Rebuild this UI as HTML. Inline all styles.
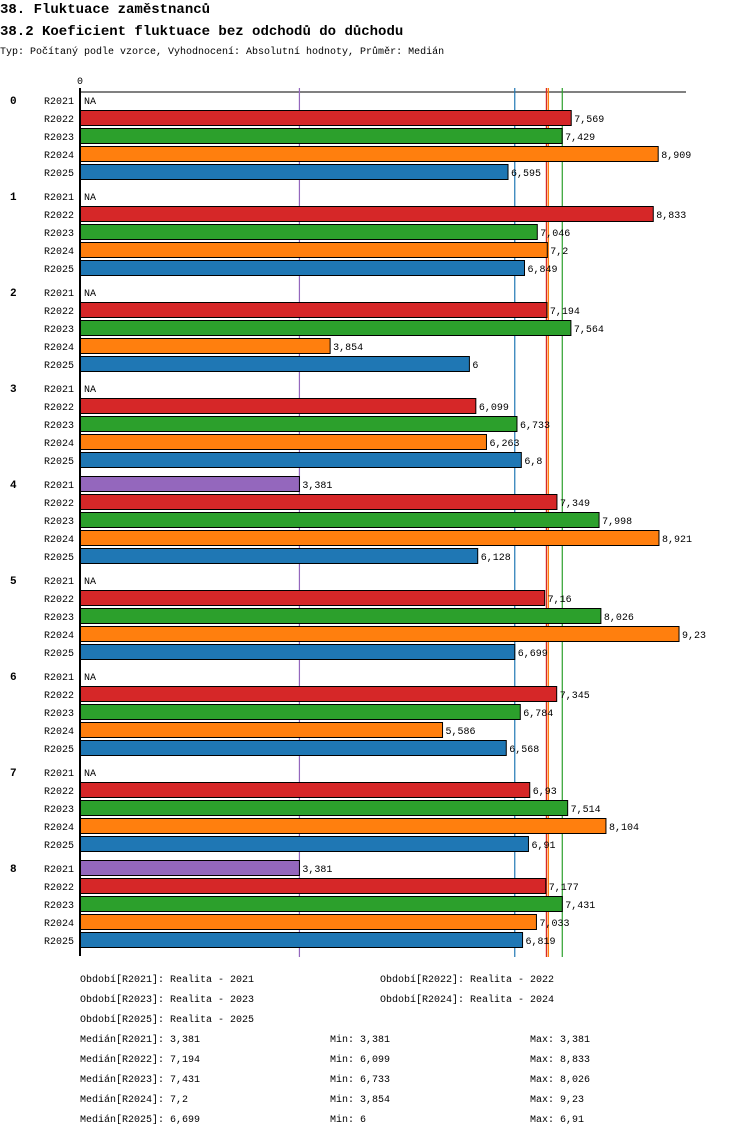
<!DOCTYPE html>
<html><head><meta charset="utf-8"><style>
body{margin:0;background:#fff;width:750px;height:1136px;overflow:hidden}
svg{display:block;font-family:"Liberation Mono",monospace}
</style></head><body>
<svg id="c" width="750" height="1136"></svg>
<script>
const groups=["0","1","2","3","4","5","6","7","8"];
const periods=["R2021","R2022","R2023","R2024","R2025"];
const colors=["#9467bd","#d62728","#2ca02c","#ff7f0e","#1f77b4"];
const r2021=[null,null,null,null,3.381,null,null,null,3.381];
const r2022=[7.569,8.833,7.194,6.099,7.349,7.16,7.345,6.93,7.177];
const r2023=[7.429,7.046,7.564,6.733,7.998,8.026,6.784,7.514,7.431];
const r2024=[8.909,7.2,3.854,6.263,8.921,9.23,5.586,8.104,7.033];
const r2025=[6.595,6.849,6,6.8,6.128,6.699,6.568,6.91,6.819];
const series=[r2021,r2022,r2023,r2024,r2025];
const medians=[3.381,7.194,7.431,7.2,6.699];
const mins=["3,381","6,099","6,733","3,854","6"];
const maxs=["3,381","8,833","8,026","9,23","6,91"];
const X0=80,SC=64.9;
const x=v=>X0+v*SC;
const svg=document.getElementById('c');
const NS="http://www.w3.org/2000/svg";
function mk(t,a,txt){const e=document.createElementNS(NS,t);for(const k in a)e.setAttribute(k,a[k]);if(txt!=null)e.textContent=txt;svg.appendChild(e);return e;}
const fmt=v=>String(v).replace('.',',');
let e;
e=mk('text',{x:0,y:13,'font-size':14,'font-weight':'bold'},'38. Fluktuace zaměstnanců');


e=mk('text',{x:0,y:35,'font-size':14,'font-weight':'bold'},'38.2 Koeficient fluktuace bez odchodů do důchodu');


e=mk('text',{x:0,y:54,'font-size':10},'Typ: Počítaný podle vzorce, Vyhodnocení: Absolutní hodnoty, Průměr: Medián');


e=mk('text',{x:X0,y:84,'font-size':10,'text-anchor':'middle'},'0');


e=mk('line',{x1:X0,y1:92,x2:686,y2:92,stroke:'#000','stroke-width':1});


const medOrder=[0,4,1,3,2];
medOrder.forEach(i=>{
  const off=i===3?1:(i===1?-0.5:0);
  const l=mk('line',{x1:x(medians[i])+off,y1:88,x2:x(medians[i])+off,y2:957,stroke:colors[i],'stroke-width':i===3?1.5:1.2});
  
  
});
groups.forEach((g,gi)=>{
  const gy=100+gi*96;
  const t=mk('text',{x:10,y:gy+4,'font-size':11,'font-weight':'bold'},g);
  
  
  periods.forEach((p,pi)=>{
    const cy=gy+pi*18;
    const lb=mk('text',{x:74,y:cy+4,'font-size':10,'text-anchor':'end'},p);
    
    
    const v=series[pi][gi];
    if(v==null){
      const na=mk('text',{x:X0+4,y:cy+4,'font-size':10},'NA');
      
      
      return;
    }
    const r=mk('rect',{x:X0,y:cy-7.5,width:x(v)-X0,height:15,fill:colors[pi],stroke:'#000','stroke-width':1});
    
    
    const vl=mk('text',{x:x(v)+3,y:cy+4,'font-size':10},fmt(v));
    
    
  });
});
e=mk('line',{x1:X0,y1:88,x2:X0,y2:956,stroke:'#000','stroke-width':2});


const legendText=['Období[R2021]: Realita - 2021','Období[R2022]: Realita - 2022','Období[R2023]: Realita - 2023','Období[R2024]: Realita - 2024','Období[R2025]: Realita - 2025'];
legendText.forEach((t,i)=>{
  const lx=i%2===0?80:380, ly=982+Math.floor(i/2)*20;
  const le=mk('text',{x:lx,y:ly,'font-size':10},t);
  
  
});
periods.forEach((p,i)=>{
  const ly=1042+i*20;
  let s=mk('text',{x:80,y:ly,'font-size':10},'Medián['+p+']: '+fmt(medians[i]));
  
  
  s=mk('text',{x:330,y:ly,'font-size':10},'Min: '+mins[i]);
  
  
  s=mk('text',{x:530,y:ly,'font-size':10},'Max: '+maxs[i]);
  
  
});
</script>
</body></html>
